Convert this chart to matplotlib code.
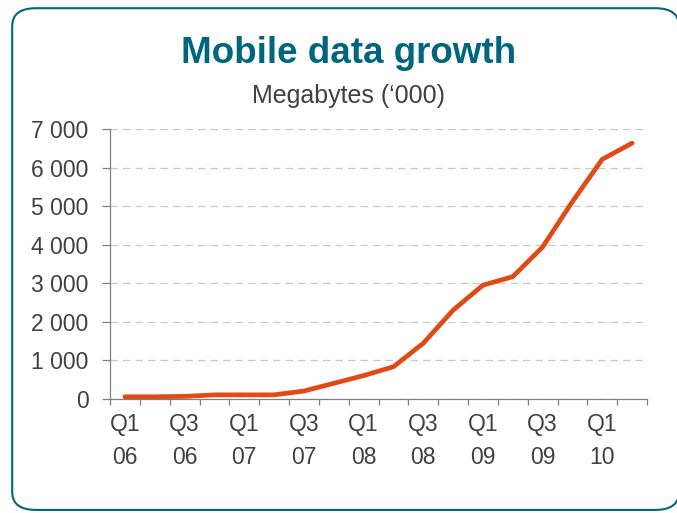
import numpy as np
import matplotlib.pyplot as plt
from matplotlib.patches import FancyBboxPatch

plt.rcParams['font.family'] = ['Liberation Sans', 'DejaVu Sans']

quarters = ['Q1\n06', 'Q2\n06', 'Q3\n06', 'Q4\n06', 'Q1\n07', 'Q2\n07', 'Q3\n07', 'Q4\n07',
            'Q1\n08', 'Q2\n08', 'Q3\n08', 'Q4\n08', 'Q1\n09', 'Q2\n09', 'Q3\n09', 'Q4\n09',
            'Q1\n10', 'Q2\n10']
megabytes = [50, 50, 60, 100, 100, 100, 200, 400, 600, 830, 1440, 2300,
             2950, 3170, 3940, 5120, 6220, 6640]
yticks = [0, 1000, 2000, 3000, 4000, 5000, 6000, 7000]

teal = '#00667f'
grey = '#404040'

fig = plt.figure(figsize=(6.77, 5.13), dpi=100)

box = FancyBboxPatch((0.018, 0.006), 0.985, 0.978, boxstyle='round,pad=0,rounding_size=0.035',
                     transform=fig.transFigure, facecolor='white', edgecolor=teal,
                     linewidth=1.5, zorder=-5)
fig.patches.append(box)

fig.text(0.515, 0.895, 'Mobile data growth', ha='center', va='center',
         fontsize=26.5, fontweight='bold', color=teal)
fig.text(0.515, 0.813, 'Megabytes (\u2018000)', ha='center', va='center',
         fontsize=18, color=grey)

ax = fig.add_axes([0.1625, 0.2228, 0.7932, 0.5252])
ax.patch.set_alpha(0)
x = np.arange(len(quarters))
ax.plot(x, megabytes, color='#e04a14', linewidth=3.4, solid_capstyle='round',
        solid_joinstyle='round', clip_on=False, zorder=3)

ax.set_xlim(-0.5, len(quarters) - 0.5)
ax.set_ylim(0, 7000)
ax.set_yticks(yticks)
ax.set_yticklabels([f'{v:,}'.replace(',', ' ') for v in yticks])
ax.yaxis.grid(True, linestyle=(0, (6, 4)), color='#c8c8c8', linewidth=0.9)
ax.set_axisbelow(True)

ax.set_xticks(x[::2])
ax.set_xticklabels(quarters[::2], linespacing=1.55)
ax.set_xticks(np.arange(-0.5, len(quarters)), minor=True)
ax.tick_params(axis='x', which='major', length=0, pad=10.5, labelsize=16.5, colors=grey)
ax.tick_params(axis='x', which='minor', length=4.5, color='#808080', width=0.9)
ax.tick_params(axis='y', length=6, color='#808080', width=0.9, labelsize=16.5,
               labelcolor=grey, pad=9.5)

for s in ['top', 'right']:
    ax.spines[s].set_visible(False)
for s in ['left', 'bottom']:
    ax.spines[s].set_color('#808080')
    ax.spines[s].set_linewidth(0.9)

fig.savefig('out.png', dpi=100)
